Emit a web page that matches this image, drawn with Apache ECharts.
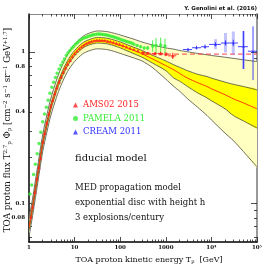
<!DOCTYPE html>
<html><head><meta charset="utf-8">
<script src="https://cdn.jsdelivr.net/npm/echarts@6/dist/echarts.min.js"></script>
<style>html,body{margin:0;padding:0;background:#fff}#c{width:271px;height:271px}</style>
</head><body><div id="c"></div>
<script>
// ---------- model band (kinetic energy in GeV, flux T^2.7 Phi) ----------
const modelT        = [1, 1.2, 1.5, 2, 2.5, 3, 4, 5, 7, 10, 15, 20, 30, 50, 70, 100, 200, 300, 500, 1000, 1500, 2000, 3000, 5000, 8000, 10000, 20000, 30000, 50000, 100000];
const modelCentral  = [0.069, 0.095, 0.145, 0.25, 0.34, 0.43, 0.57, 0.68, 0.84, 0.98, 1.10, 1.15, 1.19, 1.18, 1.15, 1.11, 1.02, 0.97, 0.90, 0.81, 0.76, 0.72, 0.67, 0.625, 0.59, 0.57, 0.52, 0.49, 0.46, 0.42];
const modelOuterTop = [0.079, 0.108, 0.165, 0.285, 0.39, 0.49, 0.65, 0.775, 0.96, 1.12, 1.26, 1.32, 1.37, 1.36, 1.33, 1.29, 1.21, 1.16, 1.11, 1.06, 1.04, 1.02, 1.00, 0.975, 0.955, 0.945, 0.92, 0.905, 0.885, 0.862];
const modelInnerTop = [0.072, 0.099, 0.151, 0.26, 0.354, 0.447, 0.593, 0.707, 0.874, 1.02, 1.145, 1.197, 1.24, 1.23, 1.20, 1.16, 1.07, 1.02, 0.95, 0.87, 0.82, 0.79, 0.75, 0.71, 0.686, 0.67, 0.63, 0.61, 0.59, 0.56];
const modelInnerBot = [0.066, 0.091, 0.139, 0.24, 0.326, 0.413, 0.547, 0.653, 0.806, 0.94, 1.056, 1.104, 1.14, 1.13, 1.10, 1.06, 0.97, 0.92, 0.845, 0.75, 0.67, 0.64, 0.59, 0.535, 0.496, 0.475, 0.42, 0.38, 0.35, 0.314];
const modelOuterBot = [0.060, 0.083, 0.127, 0.22, 0.30, 0.378, 0.50, 0.598, 0.74, 0.862, 0.968, 1.01, 1.045, 1.035, 1.01, 0.975, 0.91, 0.87, 0.79, 0.66, 0.59, 0.55, 0.49, 0.43, 0.38, 0.355, 0.29, 0.26, 0.22, 0.174];
const dashT = [300, 100000];
const dashF = [0.965, 0.965];

// ---------- AMS02 2015 ----------
const amsT = [1.1, 1.2, 1.35, 1.5, 1.65, 1.8, 2.0, 2.2, 2.45, 2.7, 3.0, 3.3, 3.7, 4.1, 4.6, 5.1, 5.7, 6.4, 7.1, 8.0, 9.0, 10.1, 11.3, 12.7, 14.3, 16.1, 18.2, 20.6, 23.4, 26.7, 30.5, 35, 40, 46, 53, 61, 71, 83, 97, 115, 137, 165, 200, 245, 316, 405, 580, 770, 1010, 1420];
const amsF = [0.081, 0.095, 0.118, 0.145, 0.172, 0.200, 0.255, 0.29, 0.34, 0.39, 0.44, 0.48, 0.53, 0.58, 0.635, 0.685, 0.735, 0.785, 0.83, 0.88, 0.93, 0.975, 1.01, 1.05, 1.08, 1.11, 1.135, 1.155, 1.17, 1.18, 1.19, 1.19, 1.19, 1.185, 1.175, 1.165, 1.15, 1.135, 1.12, 1.10, 1.08, 1.06, 1.04, 1.02, 0.99, 0.98, 0.975, 0.975, 0.965, 0.94];
const amsBarT   = [316, 405, 580, 770, 1010, 1420];
const amsBarF   = [0.99, 0.98, 0.975, 0.975, 0.965, 0.94];
const amsBarTlo = [285, 360, 500, 680, 890, 1120];
const amsBarThi = [350, 460, 660, 870, 1130, 1700];
const amsBarFlo = [0.98, 0.965, 0.955, 0.95, 0.935, 0.895];
const amsBarFhi = [1.00, 0.995, 0.995, 1.00, 0.995, 0.985];

// ---------- PAMELA 2011 ----------
const pamT = [1.05, 1.15, 1.26, 1.38, 1.51, 1.66, 1.82, 2.0, 2.19, 2.4, 2.63, 2.88, 3.16, 3.47, 3.8, 4.17, 4.57, 5.0, 5.5, 6.0, 6.6, 7.2, 7.9, 8.7, 9.5, 10.5, 11.5, 12.6, 13.8, 15.1, 16.6, 18.2, 20, 22, 24, 26, 29, 32, 35, 38, 42, 46, 50, 55, 60, 66, 72, 79, 87, 95, 105, 115, 126, 138, 151, 166, 182, 200, 235, 280, 335, 400, 516, 610, 773, 960];
const pamF = [0.115, 0.132, 0.155, 0.181, 0.212, 0.248, 0.294, 0.345, 0.388, 0.431, 0.478, 0.533, 0.582, 0.63, 0.676, 0.72, 0.768, 0.816, 0.857, 0.897, 0.948, 0.986, 1.018, 1.055, 1.084, 1.119, 1.148, 1.176, 1.199, 1.221, 1.238, 1.249, 1.265, 1.276, 1.287, 1.298, 1.30, 1.31, 1.31, 1.305, 1.30, 1.295, 1.29, 1.28, 1.27, 1.26, 1.25, 1.24, 1.23, 1.22, 1.20, 1.19, 1.18, 1.17, 1.16, 1.15, 1.14, 1.12, 1.10, 1.08, 1.06, 1.06, 1.09, 1.10, 1.11, 1.09];
const pamBarT   = [235, 280, 335, 400, 516, 610, 773, 960];
const pamBarF   = [1.10, 1.08, 1.06, 1.06, 1.09, 1.10, 1.11, 1.09];
const pamBarFlo = [1.085, 1.06, 1.035, 1.03, 1.00, 0.97, 0.98, 0.97];
const pamBarFhi = [1.115, 1.10, 1.085, 1.09, 1.19, 1.23, 1.24, 1.22];

// ---------- CREAM 2011 ----------
const creamT   = [3070, 4710, 7240, 12300, 20400, 30200, 50500, 81800];
const creamF   = [1.034, 1.063, 1.079, 1.118, 1.142, 1.142, 1.08, 1.008];
const creamTlo = [2380, 3760, 5910, 8850, 16200, 24300, 38200, 63100];
const creamThi = [3760, 5910, 8850, 16200, 24300, 38200, 63100, 100000];
const creamFlo = [1.01, 1.035, 1.045, 1.085, 1.10, 1.09, 0.77, 0.65];
const creamFhi = [1.06, 1.095, 1.115, 1.155, 1.19, 1.20, 1.37, 1.47];
const creamSysT  = [12300, 20400, 30200, 50500];
const creamSysLo = [1.04, 0.99, 0.96, 0.77];
const creamSysHi = [1.21, 1.33, 1.36, 1.37];

// ---------- axes ----------
const xMajor = [1, 10, 100, 1000, 10000, 100000];
const xLabels = ['1', '10', '100', '1000', '10⁴', '10⁵'];
const yLabelVals = [0.08, 0.1, 0.4, 0.8, 1];
const yLabels = ['0.08', '0.1', '0.4', '0.8', '1'];
const yMajor = [0.1, 1];
const yMinor = [0.06, 0.07, 0.08, 0.09, 0.2, 0.3, 0.4, 0.5, 0.6, 0.7, 0.8, 0.9];
const yMin = 0.0555, yMax = 1.775;

const L = Math.log10;
const xMinor = [];
for (let k = 0; k < 5; k++) for (let m = 2; m <= 9; m++) xMinor.push(L(m * Math.pow(10, k)));
const pts = (T, F) => T.map((t, i) => [L(t), L(F[i])]);

const FONT = 'DejaVu Serif';
const LIGHT = '#ffffc2', YEL = '#ffff00', EDGE = '#4a4a3a', RED = '#ff3c00';
const SMOOTH = 0.25;

function xAx(pos, vals, len, showLine, lineColor, lineW, labels) {
  return {
    type: 'value', min: 0, max: 5, position: pos, gridIndex: 0,
    axisLine: { show: showLine, onZero: false, lineStyle: { color: lineColor, width: lineW } },
    axisTick: { show: true, inside: true, length: len, customValues: vals, lineStyle: { color: '#222', width: 0.8 } },
    axisLabel: labels ? {
      show: true, customValues: xMajor.map(L), margin: 3,
      formatter: v => xLabels[Math.round(v)],
      fontFamily: FONT, fontSize: 5.5, fontWeight: 'bold', color: '#111'
    } : { show: false },
    splitLine: { show: false }
  };
}
function yAx(pos, vals, len, showLine, lineColor, lineW, labels) {
  return {
    type: 'value', min: L(yMin), max: L(yMax), position: pos, gridIndex: 0,
    axisLine: { show: showLine, onZero: false, lineStyle: { color: lineColor, width: lineW } },
    axisTick: { show: true, inside: true, length: len, customValues: vals, lineStyle: { color: '#222', width: 0.8 } },
    axisLabel: labels ? {
      show: true, customValues: yLabelVals.map(L), margin: 4,
      formatter: v => { let best = 0; yLabelVals.forEach((y, i) => { if (Math.abs(L(y) - v) < Math.abs(L(yLabelVals[best]) - v)) best = i; }); return yLabels[best]; },
      fontFamily: FONT, fontSize: 5.5, fontWeight: 'bold', color: '#111'
    } : { show: false },
    splitLine: { show: false }
  };
}

// band drawn through the axes' scales (api.coord), one polygon per band
function band(lo, hi, fill, z) {
  return {
    type: 'custom', silent: true, z, clip: true,
    data: modelT.map((t, i) => [L(t), L(lo[i]), L(hi[i])]),
    encode: { x: 0, y: [1, 2] },
    renderItem(params, api) {
      if (params.dataIndex !== 0) return null;
      const top = modelT.map((t, i) => api.coord([L(t), L(hi[i])]));
      const bot = modelT.map((t, i) => api.coord([L(t), L(lo[i])]));
      return { type: 'polygon', shape: { points: top.concat(bot.reverse()), smooth: SMOOTH }, style: { fill, stroke: null } };
    }
  };
}
function curve(vals, color, width, z) {
  return {
    type: 'custom', silent: true, z, clip: true,
    data: modelT.map((t, i) => [L(t), L(vals[i])]),
    encode: { x: 0, y: 1 },
    renderItem(params, api) {
      if (params.dataIndex !== 0) return null;
      const p = modelT.map((t, i) => api.coord([L(t), L(vals[i])]));
      return { type: 'polyline', shape: { points: p, smooth: SMOOTH }, style: { stroke: color, lineWidth: width, fill: null } };
    }
  };
}
function errBars(color, T, F, Tlo, Thi, Flo, Fhi, width) {
  return {
    type: 'custom', silent: true, z: 6,
    data: T.map((t, i) => [L(t), L(F[i]), L(Tlo ? Tlo[i] : t), L(Thi ? Thi[i] : t), L(Flo[i]), L(Fhi[i])]),
    encode: { x: 0, y: 1 },
    renderItem(params, api) {
      const c = api.coord([api.value(0), api.value(1)]);
      const l = api.coord([api.value(2), api.value(1)]);
      const r = api.coord([api.value(3), api.value(1)]);
      const lo = api.coord([api.value(0), api.value(4)]);
      const hi = api.coord([api.value(0), api.value(5)]);
      const ch = [];
      if (r[0] - l[0] > 0.5) ch.push({ type: 'line', shape: { x1: l[0], y1: c[1], x2: r[0], y2: c[1] }, style: { stroke: color, lineWidth: width } });
      ch.push({ type: 'line', shape: { x1: c[0], y1: hi[1], x2: c[0], y2: lo[1] }, style: { stroke: color, lineWidth: width } });
      return { type: 'group', children: ch };
    }
  };
}
function sysBars(color, T, Lo, Hi) {
  return {
    type: 'custom', silent: true, z: 5,
    data: T.map((t, i) => [L(t), L(Lo[i]), L(Hi[i])]),
    encode: { x: 0, y: [1, 2] },
    renderItem(params, api) {
      const lo = api.coord([api.value(0), api.value(1)]);
      const hi = api.coord([api.value(0), api.value(2)]);
      return { type: 'rect', shape: { x: lo[0] - 1.5, y: hi[1], width: 3, height: lo[1] - hi[1] }, style: { fill: color } };
    }
  };
}

const chart = echarts.init(document.getElementById('c'), null, { renderer: 'canvas' });
chart.setOption({
  animation: false,
  backgroundColor: '#fff',
  grid: { left: 29, right: 14, top: 14, bottom: 29 },
  xAxis: [
    xAx('bottom', xMajor.map(L), 5, true, '#000', 1.5, true),
    xAx('bottom', xMinor, 2.5, false, '#000', 1, false),
    xAx('top', xMajor.map(L), 5, true, '#888', 1, false),
    xAx('top', xMinor, 2.5, false, '#888', 1, false)
  ],
  yAxis: [
    yAx('left', yMajor.map(L), 6, true, '#000', 1.5, true),
    yAx('left', yMinor.map(L), 3, false, '#000', 1, false),
    yAx('right', yMajor.map(L), 6, true, '#999', 2, false),
    yAx('right', yMinor.map(L), 3, false, '#999', 1, false)
  ],
  legend: {
    orient: 'vertical', left: 68, top: 95, itemWidth: 5, itemHeight: 5, itemGap: 3.5,
    textStyle: { fontFamily: FONT, fontSize: 8.5, lineHeight: 10 },
    data: [
      { name: 'AMS02 2015', icon: 'triangle', textStyle: { color: '#ff2020' } },
      { name: 'PAMELA 2011', icon: 'circle', textStyle: { color: '#33ee33' } },
      { name: 'CREAM 2011', icon: 'triangle', textStyle: { color: '#2e2eff' } }
    ]
  },
  series: [
    band(modelOuterBot, modelOuterTop, LIGHT, 1),
    band(modelInnerBot, modelInnerTop, YEL, 2),
    curve(modelOuterTop, EDGE, 0.8, 3),
    curve(modelInnerTop, EDGE, 0.8, 3),
    curve(modelInnerBot, EDGE, 0.8, 3),
    curve(modelOuterBot, EDGE, 0.8, 3),
    curve(modelCentral, RED, 1, 3),
    { type: 'line', data: pts(dashT, dashF), symbol: 'none', silent: true, z: 4,
      lineStyle: { color: '#ff4040', width: 1, type: [5, 3] } },
    errBars('#33ee33', pamBarT, pamBarF, null, null, pamBarFlo, pamBarFhi, 0.9),
    { type: 'scatter', name: 'PAMELA 2011', data: pts(pamT, pamF), symbol: 'circle', symbolSize: 3.5, z: 6,
      itemStyle: { color: '#33ee33' } },
    errBars('#ff2020', amsBarT, amsBarF, amsBarTlo, amsBarThi, amsBarFlo, amsBarFhi, 0.9),
    { type: 'scatter', name: 'AMS02 2015', data: pts(amsT, amsF), symbol: 'triangle', symbolSize: 3.5, z: 7,
      itemStyle: { color: '#ff2020' } },
    sysBars('rgba(120,120,255,0.45)', creamSysT, creamSysLo, creamSysHi),
    errBars('#2e2eff', creamT, creamF, creamTlo, creamThi, creamFlo, creamFhi, 0.9),
    { type: 'scatter', name: 'CREAM 2011', data: pts(creamT, creamF), symbol: 'triangle', symbolSize: 2.5, z: 7,
      itemStyle: { color: '#2e2eff' } }
  ],
  graphic: [
    { type: 'text', right: 14, top: 6, style: { text: 'Y. Genolini et al. (2016)', font: 'bold 5.5px "DejaVu Sans"', fill: '#111' } },
    { type: 'text', left: 75, top: 153, style: { text: 'fiducial model', font: '10px "DejaVu Serif"', fill: '#111' } },
    { type: 'text', left: 75, top: 183, style: { text: 'MED propagation model', font: '8.5px "DejaVu Serif"', fill: '#111' } },
    { type: 'text', left: 75, top: 198, style: { text: 'exponential disc with height h', font: '8.5px "DejaVu Serif"', fill: '#111' } },
    { type: 'text', left: 75, top: 213, style: { text: '3 explosions/century', font: '8.5px "DejaVu Serif"', fill: '#111' } },
    { type: 'text', x: 8, y: 130, rotation: Math.PI / 2,
      style: {
        text: '{n|TOA proton flux T}{sup|2.7}{sub|p}{n| Φ}{sub|p}{n| [cm}{sup|−2}{n| s}{sup|−1}{n| sr}{sup|−1}{n| GeV}{sup|+1.7}{n|]}',
        align: 'center', verticalAlign: 'middle', fill: '#111',
        rich: {
          n: { fontFamily: FONT, fontSize: 8.7, fill: '#111' },
          sup: { fontFamily: FONT, fontSize: 5.5, padding: [0, 0, 5, 0], fill: '#111' },
          sub: { fontFamily: FONT, fontSize: 5.5, padding: [4, 0, 0, 0], fill: '#111' }
        }
      } },
    { type: 'text', x: 149, y: 260,
      style: {
        text: '{n|TOA proton kinetic energy T}{sub|p}{n|  [GeV]}',
        align: 'center', verticalAlign: 'middle', fill: '#111',
        rich: {
          n: { fontFamily: FONT, fontSize: 8, fill: '#111' },
          sub: { fontFamily: FONT, fontSize: 5, padding: [4, 0, 0, 0], fill: '#111' }
        }
      } }
  ]
});
</script>
</body></html>
